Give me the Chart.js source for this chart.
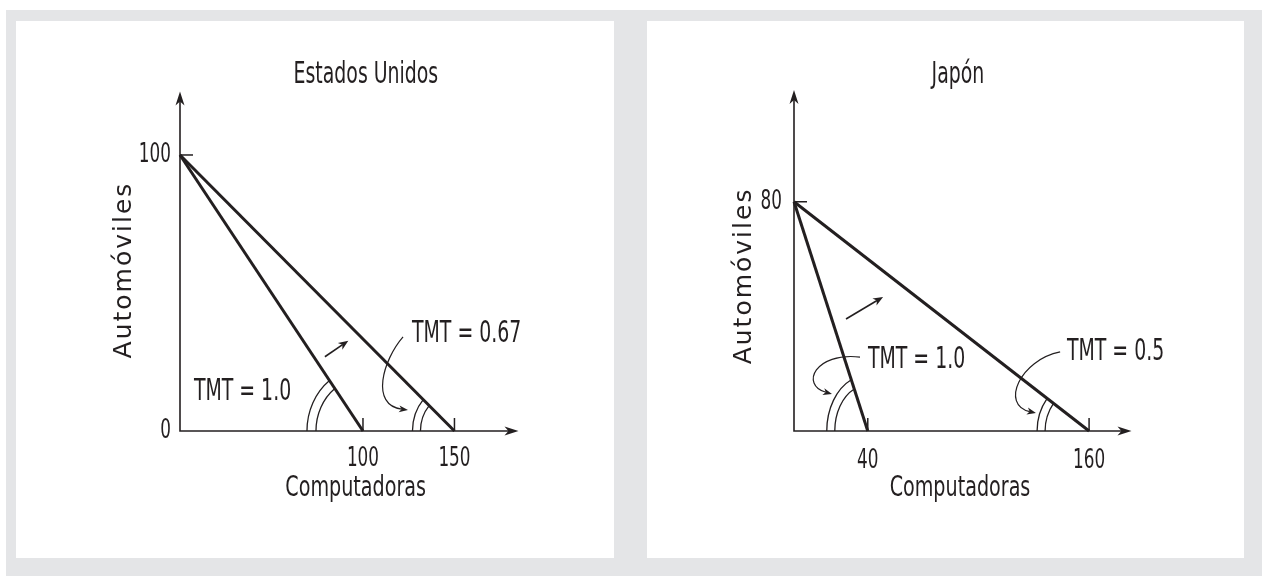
<!DOCTYPE html>
<html>
<head>
<meta charset="utf-8">
<script src="https://cdn.jsdelivr.net/npm/chart.js@4.4.1/dist/chart.umd.min.js"></script>
<style>
html,body{margin:0;padding:0;background:#fff;width:1264px;height:576px;overflow:hidden;}
#bg{position:absolute;left:6px;top:10px;width:1256px;height:566px;background:#e4e5e7;}
.panel{position:absolute;top:21px;height:537px;background:#fff;}
#p1{left:16px;width:598px;}
#p2{left:647px;width:597px;}
canvas{display:block;}
</style>
</head>
<body>
<div id="bg"></div>
<div class="panel" id="p1"><canvas id="c1" width="598" height="537"></canvas></div>
<div class="panel" id="p2"><canvas id="c2" width="597" height="537"></canvas></div>
<script>
// ---------- data ----------
const usComputersA = [0, 100];
const usCarsA = [100, 0];
const usComputersB = [0, 150];
const usCarsB = [100, 0];
const jpComputersA = [0, 40];
const jpCarsA = [80, 0];
const jpComputersB = [0, 160];
const jpCarsB = [80, 0];
const usXTicks = [100, 150];
const usYTicks = [0, 100];
const jpXTicks = [40, 160];
const jpYTicks = [80];
const usLabels = ['TMT = 1.0', 'TMT = 0.67'];
const jpLabels = ['TMT = 1.0', 'TMT = 0.5'];
const chartTitles = ['Estados Unidos', 'Japón'];
const xAxisTitle = 'Computadoras';
const yAxisTitle = 'Automóviles';

// ---------- styling ----------
const INK = '#231f20';
const NARROW = "'DejaVu Sans Condensed', 'DejaVu Sans', sans-serif";
const WIDE = "'DejaVu Sans', sans-serif";

function arrowHead(ctx, x, y, ang, len, half) {
  ctx.save();
  ctx.translate(x, y);
  ctx.rotate(ang);
  ctx.beginPath();
  ctx.moveTo(0, 0);
  ctx.lineTo(-len, -half);
  ctx.lineTo(-len * 0.72, 0);
  ctx.lineTo(-len, half);
  ctx.closePath();
  ctx.fill();
  ctx.restore();
}

// narrow (condensed) text, drawn horizontally squeezed
function narrowText(ctx, text, x, y, size, sx, align, baseline) {
  ctx.save();
  ctx.translate(x, y);
  ctx.scale(sx, 1);
  ctx.font = size + 'px ' + NARROW;
  ctx.textAlign = align;
  ctx.textBaseline = baseline;
  ctx.fillText(text, 0, 0);
  ctx.restore();
}

const econPlugin = {
  id: 'econ',
  afterDatasetsDraw(chart, args, o) {
    const ctx = chart.ctx, xs = chart.scales.x, ys = chart.scales.y;
    const px = v => xs.getPixelForValue(v), py = v => ys.getPixelForValue(v);
    ctx.save();
    ctx.strokeStyle = INK;
    ctx.fillStyle = INK;
    const ox = px(0), oy = py(0);
    const xEnd = px(xs.max), yEnd = py(ys.max);
    // axes
    ctx.lineWidth = 1.6;
    ctx.beginPath();
    ctx.moveTo(ox, oy + 0.8); ctx.lineTo(ox, yEnd + 6);
    ctx.moveTo(ox - 0.8, oy); ctx.lineTo(xEnd - 6, oy);
    ctx.stroke();
    arrowHead(ctx, xEnd, oy, 0, 14, 4.5);
    arrowHead(ctx, ox, yEnd, -Math.PI / 2, 14, 4.5);
    // tick marks (inward)
    ctx.lineWidth = 1.5;
    xs.ticks.forEach(t => {
      if (t.value === 0) return;
      ctx.beginPath(); ctx.moveTo(px(t.value), oy); ctx.lineTo(px(t.value), oy - o.tickLen); ctx.stroke();
    });
    ys.ticks.forEach(t => {
      if (t.value === 0) return;
      ctx.beginPath(); ctx.moveTo(ox, py(t.value)); ctx.lineTo(ox + o.tickLen, py(t.value)); ctx.stroke();
    });
    // tick labels (from the scales' own ticks)
    xs.ticks.forEach(t => {
      const lab = t.label !== undefined ? t.label : String(t.value);
      narrowText(ctx, lab, px(t.value), oy + o.xLabelDy, 26, 0.72, 'center', 'middle');
    });
    ys.ticks.forEach(t => {
      const lab = t.label !== undefined ? t.label : String(t.value);
      narrowText(ctx, lab, ox - o.yLabelDx, py(t.value), 26, 0.72, 'right', 'middle');
    });
    // angle arcs
    ctx.lineWidth = 1.3;
    o.arcs.forEach(a => {
      const cx = px(a.at), cy = oy;
      const dx = px(0) - cx, dy = py(a.top) - cy;
      a.radii.forEach(r => {
        const rx = r[0], ry = r[1];
        const t = Math.atan2(dy * rx, dx * ry) + 2 * Math.PI;
        ctx.beginPath();
        ctx.ellipse(cx, cy, rx, ry, 0, Math.PI, t, false);
        ctx.stroke();
      });
    });
    // arrows
    o.arrows.forEach(a => {
      const p = a.pts.map(q => [px(q[0]), py(q[1])]);
      ctx.lineWidth = a.w;
      ctx.beginPath();
      ctx.moveTo(p[0][0], p[0][1]);
      const n = p.length;
      const [ex, ey] = p[n - 1], [bx, by] = p[n - 2];
      const ang = Math.atan2(ey - by, ex - bx);
      const sx = ex - Math.cos(ang) * a.head * 0.7, sy = ey - Math.sin(ang) * a.head * 0.7;
      if (n === 2) ctx.lineTo(sx, sy);
      else ctx.bezierCurveTo(p[1][0], p[1][1], p[2][0], p[2][1], sx, sy);
      ctx.stroke();
      arrowHead(ctx, ex, ey, ang, a.head, a.half);
    });
    // TMT labels
    o.labels.forEach(l => narrowText(ctx, l.text, px(l.x), py(l.y), 30, 0.7, 'left', 'middle'));
    // panel title
    narrowText(ctx, o.title.text, px(o.title.x), py(o.title.y), 30, 0.7, 'center', 'alphabetic');
    // x axis title
    narrowText(ctx, o.xTitle.text, px(o.xTitle.x), oy + o.xTitle.dy, 28, 0.76, 'center', 'middle');
    // y axis title
    ctx.save();
    ctx.translate(px(o.yTitle.x), py(o.yTitle.y));
    ctx.rotate(-Math.PI / 2);
    ctx.font = '25px ' + WIDE;
    try { ctx.letterSpacing = '2px'; } catch (e) {}
    ctx.textAlign = 'center';
    ctx.textBaseline = 'middle';
    ctx.fillText(o.yTitle.text, 0, 0);
    ctx.restore();
    ctx.restore();
  }
};

function makeChart(id, cfg) {
  const lines = [[cfg.xa, cfg.ya], [cfg.xb, cfg.yb]];
  return new Chart(document.getElementById(id), {
    type: 'scatter',
    data: {
      datasets: lines.map(l => ({
        data: l[0].map((x, i) => ({ x: x, y: l[1][i] })),
        showLine: true,
        borderColor: INK,
        borderWidth: 3,
        pointRadius: 0,
        clip: false,
        tension: 0
      }))
    },
    options: {
      responsive: false,
      animation: false,
      devicePixelRatio: 1,
      events: [],
      layout: { padding: cfg.padding },
      plugins: {
        legend: { display: false },
        tooltip: { enabled: false },
        title: { display: false, text: cfg.title },
        econ: cfg.econ
      },
      scales: {
        x: {
          type: 'linear', min: 0, max: cfg.xMax,
          afterFit: s => { s.height = 100; },
          afterBuildTicks: s => { s.ticks = cfg.xTicks.map(v => ({ value: v })); },
          grid: { display: false, drawTicks: false }, border: { display: false },
          ticks: { display: false, autoSkip: false },
          title: { display: false, text: xAxisTitle }
        },
        y: {
          type: 'linear', min: 0, max: cfg.yMax,
          afterFit: s => { s.width = 60; },
          afterBuildTicks: s => { s.ticks = cfg.yTicks.map(v => ({ value: v })); },
          grid: { display: false, drawTicks: false }, border: { display: false },
          ticks: { display: false, autoSkip: false },
          title: { display: false, text: yAxisTitle }
        }
      }
    },
    plugins: [econPlugin]
  });
}

makeChart('c1', {
  xa: usComputersA, ya: usCarsA, xb: usComputersB, yb: usCarsB,
  xTicks: usXTicks, yTicks: usYTicks, xMax: 185, yMax: 123,
  title: chartTitles[0],
  padding: { left: 104, top: 70.5, right: 95.5, bottom: 27 },
  econ: {
    tickLen: 13, xLabelDy: 28, yLabelDx: 9,
    title: { text: chartTitles[0], x: 101.6, y: 126.1 },
    xTitle: { text: xAxisTitle, x: 96, dy: 58 },
    yTitle: { text: yAxisTitle, x: -30.6, y: 58.3 },
    labels: [
      { text: usLabels[0], x: 7.6, y: 14.1 },
      { text: usLabels[1], x: 126.8, y: 35.1 }
    ],
    arcs: [
      { at: usComputersA[1], top: usCarsA[0], radii: [[56, 63], [47, 53]] },
      { at: usComputersB[1], top: usCarsB[0], radii: [[42, 47], [34, 38]] }
    ],
    arrows: [
      { pts: [[79.2, 26.9], [92.0, 32.7]], w: 1.6, head: 10, half: 4 },
      { pts: [[121.9, 34.1], [110.9, 25.7], [103.8, 9.4], [124.6, 7.6]], w: 1.2, head: 9, half: 3.5 }
    ]
  }
});

makeChart('c2', {
  xa: jpComputersA, ya: jpCarsA, xb: jpComputersB, yb: jpCarsB,
  xTicks: jpXTicks, yTicks: jpYTicks, xMax: 183, yMax: 119,
  title: chartTitles[1],
  padding: { left: 87, top: 69, right: 112.5, bottom: 27 },
  econ: {
    tickLen: 13, xLabelDy: 30, yLabelDx: 12,
    title: { text: chartTitles[1], x: 88.9, y: 121.4 },
    xTitle: { text: xAxisTitle, x: 90, dy: 58 },
    yTitle: { text: yAxisTitle, x: -27.1, y: 54.1 },
    labels: [
      { text: jpLabels[0], x: 40.1, y: 24.8 },
      { text: jpLabels[1], x: 148.0, y: 27.6 }
    ],
    arcs: [
      { at: jpComputersA[1], top: jpCarsA[0], radii: [[41, 56], [33, 46]] },
      { at: jpComputersB[1], top: jpCarsB[0], radii: [[52, 55], [44, 47]] }
    ],
    arrows: [
      { pts: [[28.2, 39.1], [48.3, 46.8]], w: 1.6, head: 10, half: 4 },
      { pts: [[35.8, 25.8], [11.4, 27.6], [3.3, 16.1], [20.6, 12.9]], w: 1.2, head: 9, half: 3.5 },
      { pts: [[144.3, 27.6], [122.6, 24.8], [111.7, 9.1], [131.2, 6.3]], w: 1.2, head: 9, half: 3.5 }
    ]
  }
});
</script>
</body>
</html>
